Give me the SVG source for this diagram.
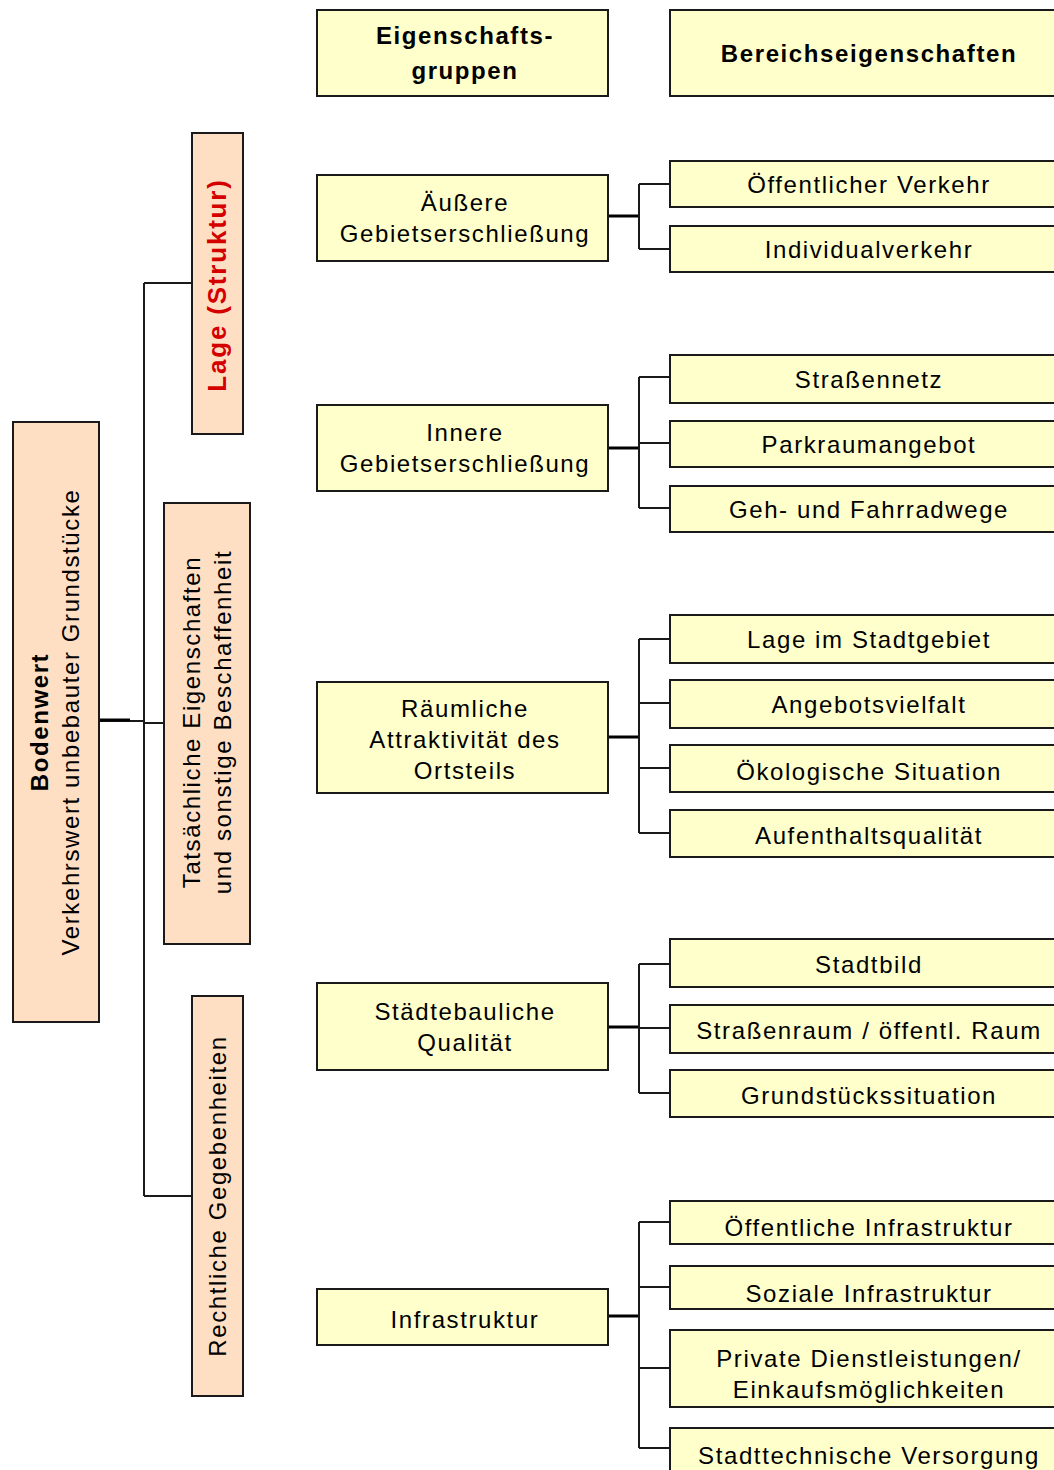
<svg xmlns="http://www.w3.org/2000/svg" width="1054" height="1470" viewBox="0 0 1054 1470">
<style>
.y{fill:#FFFFCC;stroke:#1a1a1a;stroke-width:2}
.p{fill:#FFDFC4;stroke:#1a1a1a;stroke-width:2}
text{font-family:"Liberation Sans",Arial,sans-serif;font-size:24px;fill:#000;letter-spacing:1.6px}
.c{text-anchor:middle}
.b{font-weight:bold}
.r{fill:#D40000;font-size:26px;letter-spacing:1.8px}
.ln{fill:none;stroke:#1a1a1a;stroke-width:2}
.th{fill:none;stroke:#000;stroke-width:3}
</style>
<rect width="1054" height="1470" fill="#fff"/>
<g id="connectors">
<path class="ln" d="M99 721H144M144 283V1196M144 283H192M144 723H164M144 1196H192"/>
<path class="th" d="M99 720H130"/>
<path class="th" d="M608 216H639M608 448H639M608 737H639M608 1027H639M608 1316H639"/>
<path class="ln" d="M639 184V249M639 184H670M639 249H670"/>
<path class="ln" d="M639 377V508M639 377H670M639 443H670M639 508H670"/>
<path class="ln" d="M639 639V833M639 639H670M639 703H670M639 768H670M639 833H670"/>
<path class="ln" d="M639 964V1093M639 964H670M639 1028H670M639 1093H670"/>
<path class="ln" d="M639 1222V1448M639 1222H670M639 1287H670M639 1368H670M639 1448H670"/>
</g>
<g id="bodenwert"><rect class="p" x="13" y="422" width="86" height="600"/>
<g transform="translate(56,722) rotate(-90)"><text class="c b" x="0" y="-8">Bodenwert</text><text class="c" x="0" y="23">Verkehrswert unbebauter Grundstücke</text></g></g>
<g id="lage"><rect class="p" x="192" y="133" width="51" height="301"/>
<g transform="translate(217,285) rotate(-90)"><text class="c b r" x="0" y="9">Lage (Struktur)</text></g></g>
<g id="tatsaechlich"><rect class="p" x="164" y="503" width="86" height="441"/>
<g transform="translate(207,722) rotate(-90)"><text class="c" x="0" y="-7">Tatsächliche Eigenschaften</text><text class="c" x="0" y="24">und sonstige Beschaffenheit</text></g></g>
<g id="rechtlich"><rect class="p" x="192" y="996" width="51" height="400"/>
<g transform="translate(217,1196) rotate(-90)"><text class="c" x="0" y="9">Rechtliche Gegebenheiten</text></g></g>
<g id="h-gruppen"><rect class="y" x="317" y="10" width="291" height="86"/><text class="c b" x="465" y="44">Eigenschafts-</text><text class="c b" x="465" y="79">gruppen</text></g>
<g id="h-bereich"><rect class="y" x="670" y="10" width="400" height="86"/><text class="c b" x="869" y="62">Bereichseigenschaften</text></g>
<g id="aeussere"><rect class="y" x="317" y="175" width="291" height="86"/><text class="c" x="465" y="211">Äußere</text><text class="c" x="465" y="242">Gebietserschließung</text></g>
<g id="innere"><rect class="y" x="317" y="405" width="291" height="86"/><text class="c" x="465" y="441">Innere</text><text class="c" x="465" y="472">Gebietserschließung</text></g>
<g id="raeumlich"><rect class="y" x="317" y="682" width="291" height="111"/><text class="c" x="465" y="717">Räumliche</text><text class="c" x="465" y="748">Attraktivität des</text><text class="c" x="465" y="779">Ortsteils</text></g>
<g id="staedtebau"><rect class="y" x="317" y="983" width="291" height="87"/><text class="c" x="465" y="1020">Städtebauliche</text><text class="c" x="465" y="1051">Qualität</text></g>
<g id="infra"><rect class="y" x="317" y="1289" width="291" height="56"/><text class="c" x="465" y="1328">Infrastruktur</text></g>
<g id="oev"><rect class="y" x="670" y="161" width="400" height="46"/><text class="c" x="869" y="193">Öffentlicher Verkehr</text></g>
<g id="iv"><rect class="y" x="670" y="226" width="400" height="46"/><text class="c" x="869" y="258">Individualverkehr</text></g>
<g id="strassennetz"><rect class="y" x="670" y="355" width="400" height="48"/><text class="c" x="869" y="388">Straßennetz</text></g>
<g id="parkraum"><rect class="y" x="670" y="421" width="400" height="46"/><text class="c" x="869" y="453">Parkraumangebot</text></g>
<g id="gehwege"><rect class="y" x="670" y="486" width="400" height="46"/><text class="c" x="869" y="518">Geh- und Fahrradwege</text></g>
<g id="lagestadt"><rect class="y" x="670" y="615" width="400" height="48"/><text class="c" x="869" y="648">Lage im Stadtgebiet</text></g>
<g id="angebot"><rect class="y" x="670" y="680" width="400" height="48"/><text class="c" x="869" y="713">Angebotsvielfalt</text></g>
<g id="oeko"><rect class="y" x="670" y="745" width="400" height="47"/><text class="c" x="869" y="780">Ökologische Situation</text></g>
<g id="aufenthalt"><rect class="y" x="670" y="810" width="400" height="47"/><text class="c" x="869" y="844">Aufenthaltsqualität</text></g>
<g id="stadtbild"><rect class="y" x="670" y="939" width="400" height="48"/><text class="c" x="869" y="973">Stadtbild</text></g>
<g id="strassenraum"><rect class="y" x="670" y="1005" width="400" height="48"/><text class="c" x="869" y="1039">Straßenraum / öffentl. Raum</text></g>
<g id="grundstueck"><rect class="y" x="670" y="1070" width="400" height="47"/><text class="c" x="869" y="1104">Grundstückssituation</text></g>
<g id="oeffinfra"><rect class="y" x="670" y="1201" width="400" height="43"/><text class="c" x="869" y="1236">Öffentliche Infrastruktur</text></g>
<g id="sozinfra"><rect class="y" x="670" y="1266" width="400" height="43"/><text class="c" x="869" y="1302">Soziale Infrastruktur</text></g>
<g id="privat"><rect class="y" x="670" y="1330" width="400" height="77"/><text class="c" x="869" y="1367">Private Dienstleistungen/</text><text class="c" x="869" y="1398">Einkaufsmöglichkeiten</text></g>
<g id="stadttechnik"><rect class="y" x="670" y="1428" width="400" height="60"/><text class="c" x="869" y="1464">Stadttechnische Versorgung</text></g>
</svg>
